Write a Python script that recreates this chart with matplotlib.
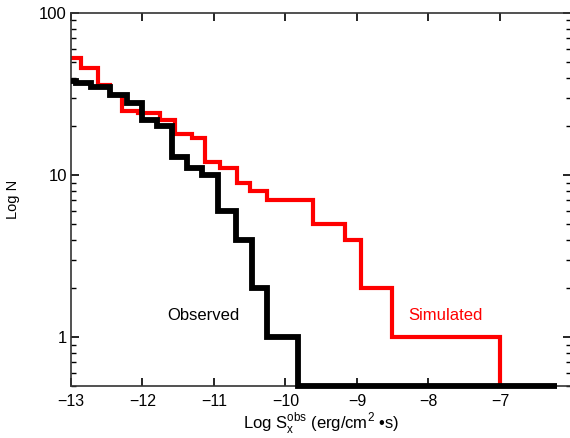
import numpy as np
import matplotlib
matplotlib.use("Agg")
import matplotlib.pyplot as plt

plt.rcParams['font.family'] = ['Liberation Sans', 'DejaVu Sans']
plt.rcParams['mathtext.fontset'] = 'custom'
plt.rcParams['mathtext.rm'] = 'Liberation Sans'

# cumulative counts (step edges in log flux)
obs_edges = [-13.0, -12.93, -12.72, -12.45, -12.22, -12.01, -11.80, -11.59, -11.38,
             -11.17, -10.94, -10.69, -10.47, -10.26, -9.83, -6.20]
obs_counts = [38, 37, 35, 31, 28, 22, 20, 13, 11, 10, 6, 4, 2, 1, 0]

sim_edges = [-13.0, -12.86, -12.62, -12.45, -12.29, -12.06, -11.76, -11.55, -11.31,
             -11.13, -10.92, -10.68, -10.50, -10.26, -9.62, -9.17, -8.94, -8.51,
             -7.0, -6.2]
sim_counts = [53, 46, 36, 31, 25, 24, 22, 18, 17, 12, 11, 9, 8, 7, 5, 4, 2, 1, 0]

xticks = [-13, -12, -11, -10, -9, -8, -7]
yticks = [1, 10, 100]
ytick_labels = ['1', '10', '100']

y_floor = 0.5

fig = plt.figure(figsize=(5.70, 4.38), dpi=100)
ax = fig.add_axes([71 / 570, 52 / 438, 500.5 / 570, 373 / 438])

ax.stairs(np.maximum(sim_counts, y_floor), sim_edges, baseline=None,
          color='#ff0000', lw=3.0, clip_on=False, zorder=2)
ax.stairs(np.maximum(obs_counts, y_floor), obs_edges, baseline=None,
          color='black', lw=4.2, clip_on=False, zorder=3)

ax.set_yscale('log')
ax.set_xlim(-13, -6)
ax.set_ylim(y_floor, 100)

ax.set_xticks(xticks)
ax.set_xticklabels([f'\u2212{abs(t)}' for t in xticks])
ax.set_yticks(yticks)
ax.set_yticklabels(ytick_labels)
ax.xaxis.set_minor_locator(matplotlib.ticker.NullLocator())
ax.yaxis.set_minor_locator(matplotlib.ticker.LogLocator(base=10, subs=np.arange(2, 10)))
ax.yaxis.set_minor_formatter(matplotlib.ticker.NullFormatter())

ax.tick_params(which='both', direction='in', top=True, right=True, labelsize=12)
ax.tick_params(which='major', length=6, width=1.2)
ax.tick_params(which='minor', length=3.5, width=1.0)
ax.tick_params(axis='x', pad=6, labelsize=11.5)
ax.tick_params(axis='y', pad=3)
for s in ax.spines.values():
    s.set_linewidth(1.2)
    s.set_color('#333333')

ax.set_xlabel('Log S$_{\\mathrm{x}}^{\\mathrm{obs}}$ (erg/cm$^{2}$ \u2022s)', fontsize=12, labelpad=1)
ax.set_ylabel('Log N', fontsize=10.5, labelpad=14)

ax.text(-11.15, 1.37, 'Observed', fontsize=12, color='black', ha='center', va='center')
ax.text(-7.76, 1.37, 'Simulated', fontsize=12, color='#ff0000', ha='center', va='center')

fig.savefig('out.png', dpi=100)
